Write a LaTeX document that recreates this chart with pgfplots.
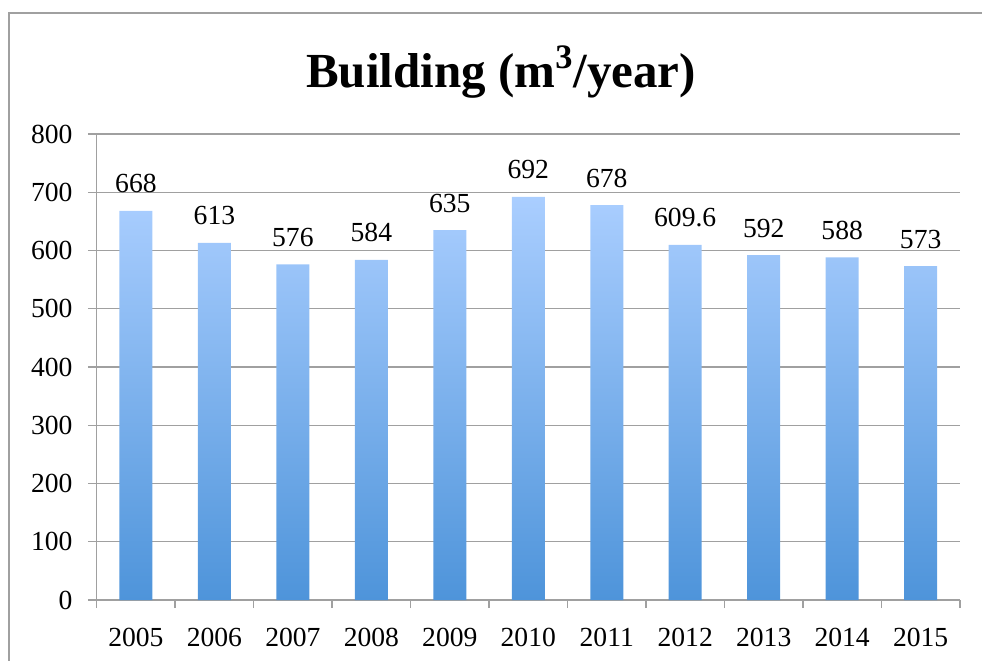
\documentclass[border=0pt]{standalone}
\usepackage{fontspec}
\setmainfont{Liberation Serif}
\usepackage{pgfplots}
\pgfplotsset{compat=1.18}
\definecolor{gridgray}{RGB}{160,160,160}
\definecolor{bartop}{RGB}{170,206,255}
\definecolor{barbot}{RGB}{78,148,218}
\begin{document}
\begin{tikzpicture}[x=1pt,y=1pt]
\useasboundingbox (0,0) rectangle (491,330.5);
\fill[gridgray] (4.1,0) rectangle (4.9,324.4);
\fill[gridgray] (4.1,323.6) rectangle (491,324.4);
\node[anchor=base, font=\bfseries\fontsize{24.5}{29}\selectfont] at (250.5,287) {Building (m\textsuperscript{3}/year)};
\begin{axis}[
  at={(48.35pt,30.5pt)}, anchor=south west,
  scale only axis, width=431.6pt, height=233pt,
  xmin=-0.5, xmax=10.5, ymin=0, ymax=800,
  axis x line=bottom, axis y line=left,
  axis line style={gridgray, line width=0.7pt, -},
  xtick={0,...,10},
  xticklabels={2005,2006,2007,2008,2009,2010,2011,2012,2013,2014,2015},
  minor xtick={-0.5,0.5,...,10.5},
  major x tick style={draw=none},
  minor x tick style={gridgray, line width=0.7pt},
  minor tick length=4pt,
  ytick={0,100,...,800},
  major tick length=4.4pt,
  y tick style={gridgray, line width=0.7pt},
  tick align=outside,
  ymajorgrids, grid style={gridgray, line width=0.7pt},
  /pgf/number format/assume math mode=true,
  tick label style={font=\fontsize{13.8}{16}\selectfont, text=black},
  yticklabel style={anchor=east, inner sep=0pt, xshift=-7.5pt},
  xticklabel style={anchor=base, inner sep=0pt, yshift=-19pt},
  clip=false,
]
\addplot[ybar, bar width=16.5pt, draw=none, top color=bartop, bottom color=barbot,
  nodes near coords, point meta=explicit symbolic,
  nodes near coords style={anchor=base, inner sep=0pt, yshift=9pt, font=\fontsize{13.8}{16}\selectfont, text=black}]
coordinates {
 (0,668) [668]
 (1,613) [613]
 (2,576) [576]
 (3,584) [584]
 (4,635) [635]
 (5,692) [692]
 (6,678) [678]
 (7,609.6) [609.6]
 (8,592) [592]
 (9,588) [588]
 (10,573) [573]
};
\end{axis}
\end{tikzpicture}
\end{document}
